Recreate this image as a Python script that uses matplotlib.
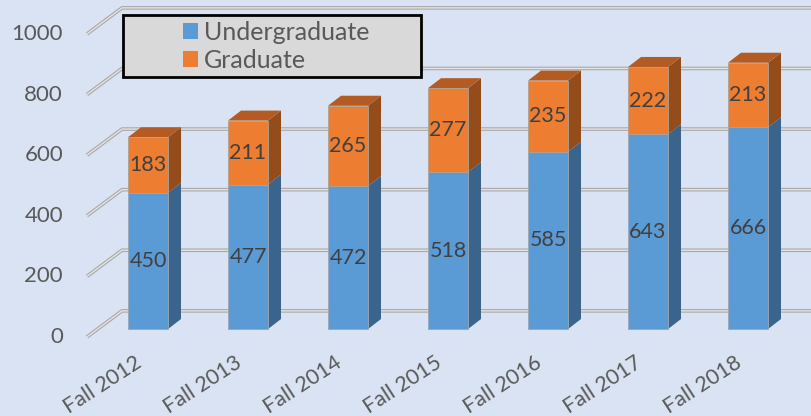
import numpy as np
import matplotlib.pyplot as plt
from matplotlib.patches import Polygon, Rectangle

categories = ['Fall 2012', 'Fall 2013', 'Fall 2014', 'Fall 2015', 'Fall 2016', 'Fall 2017', 'Fall 2018']
undergrad = [450, 477, 472, 518, 585, 643, 666]
grad = [183, 211, 265, 277, 235, 222, 213]
yticks = [0, 200, 400, 600, 800, 1000]

plt.rcParams['font.family'] = ['Lato', 'DejaVu Sans']

bg = '#dae3f3'
blue, blue_side = '#5b9bd5', '#3a648c'
orange, orange_top, orange_side = '#ed7d31', '#b35b22', '#944c1b'

# fake 3d offsets (category units, value units)
dx, dy = 0.13, 33
back = 60      # back wall offset
lab_off = -26  # front axis label offset

fig = plt.figure(figsize=(8.12, 4.16), dpi=100)
fig.patch.set_facecolor(bg)
ax = fig.add_axes([0, 0, 1, 1])
ax.set_facecolor(bg)
ax.set_xlim(-1.48, 6.64)
ax.set_ylim(-287, 1086)
ax.axis('off')

# gridlines: diagonal from front to back wall, then along the back
for v in yticks:
    xs = [-0.61, -0.26, 6.64]
    ys = [v + lab_off, v + back, v + back]
    ax.plot(xs, ys, color='#a8a8a8', lw=2.6, solid_capstyle='butt', zorder=1)
    ax.plot(xs, ys, color='#e4e4e4', lw=1.0, solid_capstyle='butt', zorder=1.1)
    ax.text(-0.85, v + lab_off, str(v), ha='right', va='center',
            fontsize=16, color='#595959')

x = np.arange(len(categories))
w = 0.4
ax.bar(x, undergrad, width=w, color=blue, edgecolor='#9aa7b5', lw=0.6, zorder=3)
ax.bar(x, grad, width=w, bottom=undergrad, color=orange, edgecolor='#b0a090', lw=0.6, zorder=3)

for i in range(len(x)):
    u, g = undergrad[i], grad[i]
    r = x[i] + w / 2
    l = x[i] - w / 2
    top = u + g
    ax.add_patch(Polygon([(r, 0), (r + dx, dy), (r + dx, u + dy), (r, u)],
                         closed=True, fc=blue_side, ec='none', zorder=2.9))
    ax.add_patch(Polygon([(r, u), (r + dx, u + dy), (r + dx, top + dy), (r, top)],
                         closed=True, fc=orange_side, ec='none', zorder=2.9))
    ax.add_patch(Polygon([(l, top), (r, top), (r + dx, top + dy), (l + dx, top + dy)],
                         closed=True, fc=orange_top, ec='none', zorder=2.9))
    ax.text(x[i], u / 2, str(u), ha='center', va='center', fontsize=15.5,
            color='#404040', zorder=4)
    ax.text(x[i], u + g / 2, str(g), ha='center', va='center', fontsize=15.5,
            color='#404040', zorder=4)
    ax.text(x[i] - 0.08, -104, categories[i], rotation=33, rotation_mode='anchor',
            ha='right', va='center', fontsize=15.5, color='#595959')

# legend box
fig.patches.append(Rectangle((123 / 812, 1 - 77 / 416), 298 / 812, 62 / 416,
                             transform=fig.transFigure, fc='#d9d9d9', ec='black',
                             lw=2, zorder=5))
h1 = Rectangle((0, 0), 1, 1, fc=blue)
h2 = Rectangle((0, 0), 1, 1, fc=orange)
leg = fig.legend([h1, h2], ['Undergraduate', 'Graduate'], loc='center',
                 bbox_to_anchor=(276 / 812, 1 - 46 / 416), frameon=False,
                 fontsize=18, handlelength=0.6, handleheight=0.6,
                 handletextpad=0.25, labelspacing=0.2, labelcolor='#595959')
leg.set_zorder(6)

fig.savefig('out.png', dpi=100, facecolor=bg)
